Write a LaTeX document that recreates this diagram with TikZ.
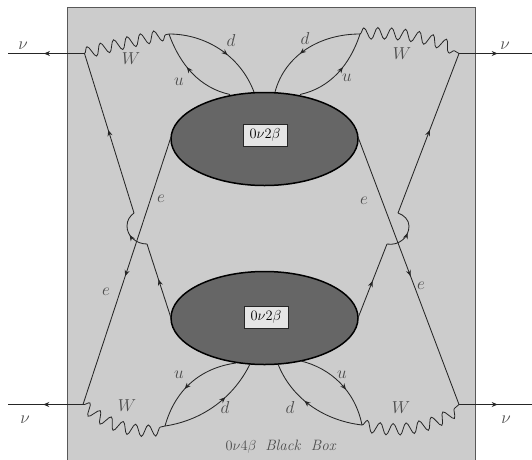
\documentclass[tikz,border=0pt]{standalone}
\usetikzlibrary{decorations.pathmorphing,decorations.markings,arrows.meta,shapes.geometric}
\definecolor{boxgray}{gray}{0.8}
\definecolor{blobgray}{gray}{0.4}
\definecolor{tagfill}{gray}{0.9}
\definecolor{labelgray}{gray}{0.3}
\tikzset{
  midarrow/.style={postaction={decorate,decoration={markings,mark=at position #1 with {\arrow{Stealth[length=6pt,width=5pt]}}}}},
  fermion/.style={draw,line width=0.85pt,black!85},
  boson/.style={draw,line width=0.8pt,black!85,decorate,decoration={snake,segment length=13.6pt,amplitude=5.8pt}},
  blob/.style={ellipse,draw=black,fill=blobgray,line width=1.5pt,minimum width=187pt,minimum height=93pt,inner sep=0pt},
  tag/.style={draw=black!85,fill=tagfill,line width=0.8pt,minimum width=44pt,minimum height=22pt,inner sep=0pt,font=\fontsize{15}{17}\selectfont},
  lab/.style={text=labelgray,inner sep=0pt,font=\fontsize{16}{18}\selectfont},
  titlelab/.style={text=labelgray,inner sep=0pt,font=\fontsize{15}{17}\selectfont},
}
\begin{document}
\begin{tikzpicture}[x=1pt,y=-1pt]
\useasboundingbox (0,0) rectangle (532,459);
\path[fill=boxgray,draw=black!65,line width=0.9pt] (67,7.5) rectangle (475.5,470);
\node[blob] (top) at (264.5,139) {};
\node[blob] (bot) at (264.5,318) {};
\node[tag] (ttag) at (265,135) {$0\nu2\beta$};
\node[tag] (btag) at (266,317) {$0\nu2\beta$};
\coordinate (tlW) at (84.5,53.5);
\coordinate (tlq) at (169,34);
\coordinate (trW) at (459,53.5);
\coordinate (trq) at (360,34);
\coordinate (blW) at (83,404.5);
\coordinate (blq) at (165,426);
\coordinate (brW) at (459,404.5);
\coordinate (brq) at (362,425);
\coordinate (nutl) at (8,53.5);
\coordinate (nutr) at (532,53.5);
\coordinate (nubl) at (8,404.5);
\coordinate (nubr) at (532,404.5);
% neutrinos
\path[fermion,midarrow=0.53] (tlW) -- (nutl);
\path[fermion,midarrow=0.53] (trW) -- (nutr);
\path[fermion,midarrow=0.53] (blW) -- (nubl);
\path[fermion,midarrow=0.53] (brW) -- (nubr);
% W bosons
\path[boson] (tlW) .. controls (110,46) and (140,40) .. (tlq);
\path[boson] (trq) .. controls (390,32) and (430,36) .. (trW);
\path[boson] (blW) .. controls (110,428) and (140,432) .. (blq);
\path[boson] (brq) .. controls (390,432) and (430,430) .. (brW);
% quarks
\coordinate (a1) at (254,92);
\coordinate (a2) at (230,94.5);
\coordinate (a3) at (275,92);
\coordinate (a4) at (300,94.5);
\coordinate (b1) at (250,364);
\coordinate (b2) at (236,363);
\coordinate (b3) at (278,364);
\coordinate (b4) at (301,361);
\path[fermion,midarrow=0.58] (tlq) .. controls (205,34) and (240,55) .. (a1);
\path[fermion,midarrow=0.58] (a2) .. controls (200,88) and (180,65) .. (tlq);
\path[fermion,midarrow=0.58] (trq) .. controls (320,34) and (285,55) .. (a3);
\path[fermion,midarrow=0.58] (a4) .. controls (330,88) and (350,65) .. (trq);
\path[fermion,midarrow=0.62] (blq) .. controls (205,420) and (235,395) .. (b1);
\path[fermion,midarrow=0.58] (b2) .. controls (200,368) and (175,390) .. (blq);
\path[fermion,midarrow=0.58] (brq) .. controls (320,420) and (290,395) .. (b3);
\path[fermion,midarrow=0.58] (b4) .. controls (330,368) and (355,390) .. (brq);
% left crossing
\coordinate (tlk) at (134,213);
\coordinate (blk) at (147,244);
\coordinate (tls) at (171,137);
\coordinate (bls) at (171,318);
\path[fermion,midarrow=0.52] (tlk) -- (tlW);
\path[fermion,midarrow=0.52] (tls) -- (blW);
\path[fermion,midarrow=0.45] (blk) .. controls (136,244) and (127,236) .. (127,226) .. controls (127,220) and (130,216) .. (tlk);
\path[fermion,midarrow=0.52] (bls) -- (blk);
% right crossing
\coordinate (trk) at (398,213);
\coordinate (brk) at (387,244);
\coordinate (trs) at (358,137);
\coordinate (brs) at (358,318);
\path[fermion,midarrow=0.52] (trk) -- (trW);
\path[fermion,midarrow=0.52] (trs) -- (brW);
\path[fermion,midarrow=0.5] (brk) .. controls (398,246) and (409,238) .. (409,226) .. controls (409,220) and (404,215) .. (trk);
\path[fermion,midarrow=0.5] (brs) -- (brk);
% labels
\node[lab] (n1) at (23,46) {$\nu$};
\node[lab] (n2) at (505,46) {$\nu$};
\node[lab] (n3) at (25,420) {$\nu$};
\node[lab] (n4) at (506,420) {$\nu$};
\node[lab] (w1) at (131,59) {$W$};
\node[lab] (w2) at (402,54) {$W$};
\node[lab] (w3) at (127,406) {$W$};
\node[lab] (w4) at (401,408) {$W$};
\node[lab] (d1) at (231,40) {$d$};
\node[lab] (d2) at (305,38) {$d$};
\node[lab] (d3) at (225,407) {$d$};
\node[lab] (d4) at (290,407) {$d$};
\node[lab] (u1) at (179,82) {$u$};
\node[lab] (u2) at (347,78) {$u$};
\node[lab] (u3) at (179,375) {$u$};
\node[lab] (u4) at (342,375) {$u$};
\node[lab] (e1) at (161,199) {$e$};
\node[lab] (e2) at (364,201) {$e$};
\node[lab] (e3) at (106,292) {$e$};
\node[lab] (e4) at (421,286) {$e$};
\node[titlelab] (title) at (281,447) {$0\nu4\beta$ \ \textit{Black\ \ Box}};
\end{tikzpicture}
\end{document}
